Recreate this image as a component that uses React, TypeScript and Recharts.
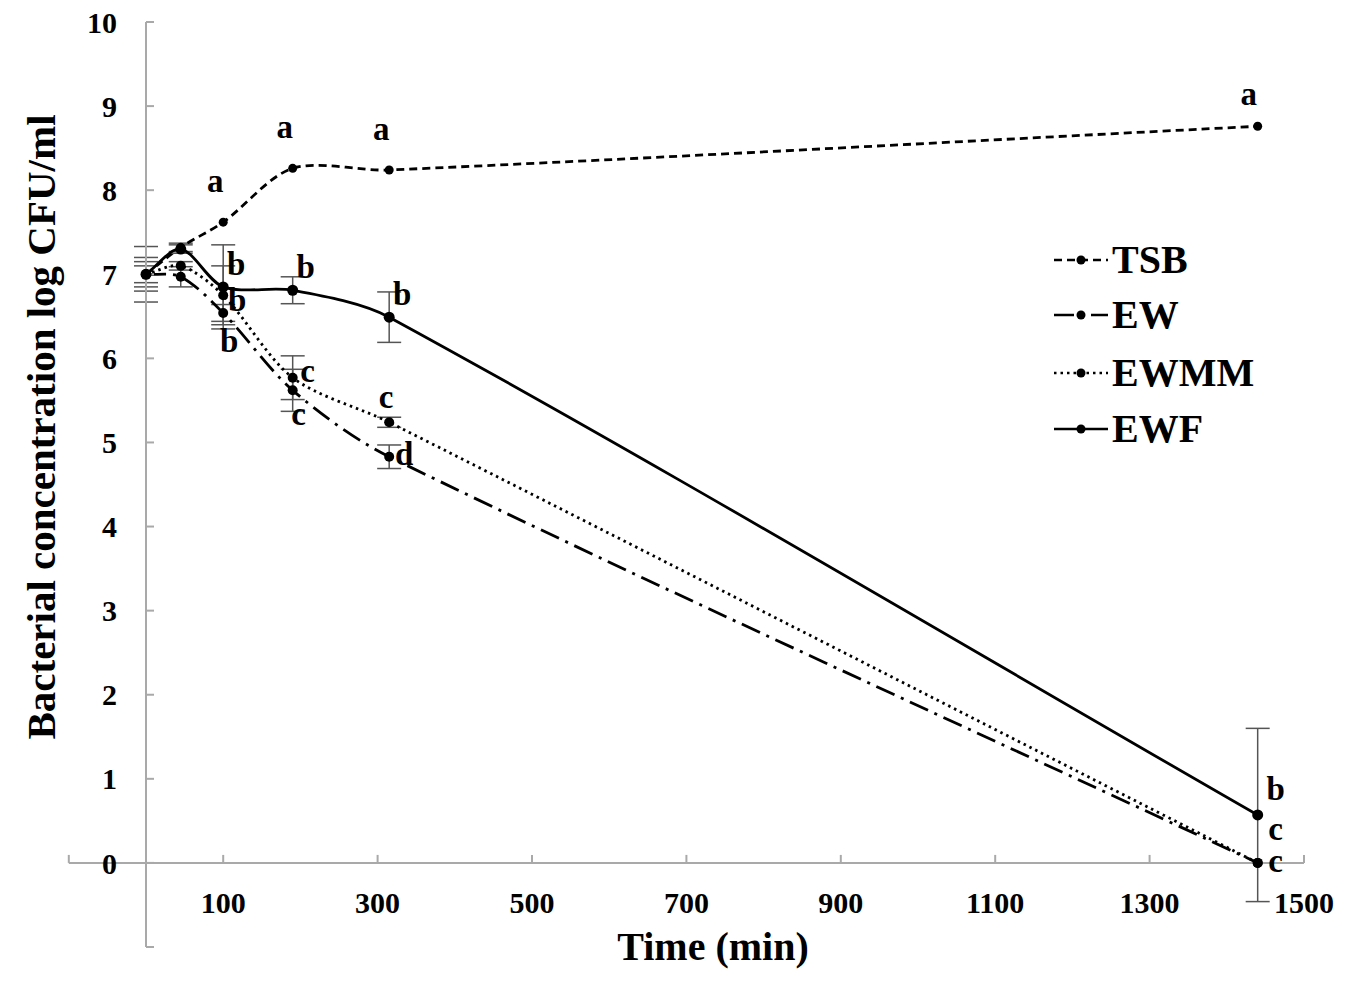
import React from "react";
import { ComposedChart, Line, XAxis, YAxis, ErrorBar, LabelList, ReferenceLine, Legend } from "recharts";

// sampling times (min)
const times = [0, 45, 100, 190, 315, 1440];

const tsb = [7.0, 7.32, 7.62, 8.26, 8.24, 8.76];
const tsbErr = [0.15, 0.05, 0, 0, 0, 0];
const tsbLetters = ["", "", "a", "a", "a", "a"];

const ew = [7.0, 6.97, 6.54, 5.62, 4.83, 0];
const ewErr = [0.2, 0.12, 0.1, 0.25, 0.14, 0];
const ewLetters = ["", "", "b", "c", "d", "c"];

const ewmm = [7.0, 7.1, 6.75, 5.77, 5.24, 0];
const ewmmErr = [0.1, 0.05, 0.35, 0.26, 0.06, 0];
const ewmmLetters = ["", "", "b", "c", "c", "c"];

const ewf = [7.0, 7.3, 6.85, 6.81, 6.49, 0.57];
const ewfErr = [0.33, 0.05, 0.5, 0.16, 0.3, 1.03];
const ewfLetters = ["", "", "b", "b", "b", "b"];

const xTicks = [100, 300, 500, 700, 900, 1100, 1300, 1500];
const yTicks = [-1, 0, 1, 2, 3, 4, 5, 6, 7, 8, 9, 10];

const FONT = '"Liberation Serif", "Times New Roman", serif';
const AXIS = "#a9a9a9";

// where each significance letter sits relative to its point
const OFFSETS: Record<string, [number, number]> = {
  above: [-8, -38],
  aboveLow: [-9, -29],
  upRight: [13, -24],
  right: [15, -4],
  rightLow: [14, 4],
  below: [6, 27],
  over: [-3, -22],
  endUp: [18, -27],
  endMid: [18, -31],
  endLow: [18, 1],
};

const series = [
  { key: "TSB", values: tsb, err: tsbErr, letters: tsbLetters, dash: "8 5", r: 4.5,
    place: ["", "", "above", "above", "above", "aboveLow"] },
  { key: "EW", values: ew, err: ewErr, letters: ewLetters, dash: "20 7 3 7", r: 5,
    place: ["", "", "below", "below", "right", "endLow"] },
  { key: "EWMM", values: ewmm, err: ewmmErr, letters: ewmmLetters, dash: "2.5 4", r: 5,
    place: ["", "", "rightLow", "right", "over", "endMid"] },
  { key: "EWF", values: ewf, err: ewfErr, letters: ewfLetters, dash: undefined, r: 5.5,
    place: ["", "", "upRight", "upRight", "upRight", "endUp"] },
];

const data = times.map((t, i) => {
  const row: Record<string, number | string> = { t };
  series.forEach(s => {
    row[s.key] = s.values[i];
    row[`${s.key}_err`] = s.err[i];
    row[`${s.key}_lbl`] = s.letters[i];
  });
  return row;
});

// Excel-like smoothed line: chord-length Catmull-Rom turned into cubic Beziers
const smoothCurve = (context: any) => {
  let pts: number[][] = [];
  return {
    areaStart() {},
    areaEnd() {},
    lineStart() { pts = []; },
    point(x: number, y: number) { pts.push([+x, +y]); },
    lineEnd() {
      const n = pts.length;
      if (!n) return;
      const dist = (a: number[], b: number[]) => Math.hypot(b[0] - a[0], b[1] - a[1]) || 1;
      const tan = (i: number) => {
        const prev = pts[Math.max(i - 1, 0)];
        const next = pts[Math.min(i + 1, n - 1)];
        const d = dist(prev, pts[i]) * (i > 0 ? 1 : 0) + dist(pts[i], next) * (i < n - 1 ? 1 : 0);
        return [(next[0] - prev[0]) / d, (next[1] - prev[1]) / d];
      };
      context.moveTo(pts[0][0], pts[0][1]);
      for (let i = 0; i < n - 1; i++) {
        const p1 = pts[i], p2 = pts[i + 1];
        const d = dist(p1, p2) * 0.3;
        const t1 = tan(i), t2 = tan(i + 1);
        context.bezierCurveTo(p1[0] + t1[0] * d, p1[1] + t1[1] * d, p2[0] - t2[0] * d, p2[1] - t2[1] * d, p2[0], p2[1]);
      }
    },
  };
};

const letterLabel = (letters: string[], place: string[]) => (props: any) => {
  const x = props.viewBox?.x ?? props.x;
  const y = props.viewBox?.y ?? props.y;
  const l = letters[props.index];
  if (!l || x == null || y == null) return null;
  const [dx, dy] = OFFSETS[place[props.index]];
  const tall = l === "b" || l === "d";
  return (
    <text x={x + dx} y={y + dy} dy={tall ? 12 : 8} textAnchor="middle"
      fontFamily={FONT} fontWeight="bold" fontSize={33} fill="#000">{l}</text>
  );
};

const LegendBox = () => {
  const rows = [30, 85, 143, 199];
  return (
    <svg width={260} height={230}>
      {series.map((s, i) => (
        <g key={s.key}>
          <line x1={14} x2={68} y1={rows[i]} y2={rows[i]} stroke="#000" strokeWidth={2.5}
            strokeDasharray={s.dash} />
          <circle cx={41} cy={rows[i]} r={4.5} fill="#000" />
          <text x={72} y={rows[i] + 13} fontFamily={FONT} fontWeight="bold" fontSize={40} fill="#000">{s.key}</text>
        </g>
      ))}
    </svg>
  );
};

export default function App() {
  const tickStyle = { fill: "#000", fontSize: 30, fontWeight: "bold", fontFamily: FONT };
  return (
    <div style={{ position: "absolute", left: 0, top: 0, width: 1350, height: 984, background: "#fff" }}>
      <ComposedChart width={1350} height={984} data={data} margin={{ top: 22, right: 46, left: 66, bottom: 7 }}>
        <XAxis dataKey="t" type="number" domain={[0, 1500]} ticks={xTicks} interval={0} height={30}
          axisLine={false} tickLine={false} tickSize={0} tickMargin={-55} tick={tickStyle}
          label={{ content: () => (
            <text x={713} y={960} textAnchor="middle" fontFamily={FONT} fontWeight="bold" fontSize={40} fill="#000">Time (min)</text>
          ) }} />
        <YAxis type="number" domain={[-1, 10]} ticks={yTicks} interval={0} width={80}
          stroke={AXIS} axisLine={{ stroke: AXIS, strokeWidth: 2 }} tickLine={{ stroke: AXIS, strokeWidth: 2 }}
          tickSize={-8} tickMargin={37} tick={tickStyle} tickFormatter={(v: number) => (v < 0 ? "" : String(v))}
          label={{ content: () => (
            <text x={55} y={427} transform="rotate(-90, 55, 427)" textAnchor="middle" fontFamily={FONT}
              fontWeight="bold" fontSize={41} fill="#000">Bacterial concentration log CFU/ml</text>
          ) }} />
        {/* the time axis crosses at 0 and starts a little left of the y axis */}
        <ReferenceLine segment={[{ x: -100, y: 0 }, { x: 1500, y: 0 }]} ifOverflow="visible" stroke={AXIS} strokeWidth={2} />
        {[-100, ...xTicks].map(t => (
          <ReferenceLine key={t} segment={[{ x: t, y: 0 }, { x: t, y: 0.095 }]} ifOverflow="visible"
            stroke={AXIS} strokeWidth={2} />
        ))}
        {series.map(s => (
          <Line key={s.key} dataKey={s.key} type={smoothCurve as any} stroke="#000" strokeWidth={2.8}
            strokeDasharray={s.dash} isAnimationActive={false}
            dot={{ r: s.r, fill: "#000", stroke: "none" }} activeDot={false}>
            <ErrorBar dataKey={`${s.key}_err`} width={12} stroke="#555" strokeWidth={1.5} direction="y"
              isAnimationActive={false} />
            <LabelList dataKey={`${s.key}_lbl`} content={letterLabel(s.letters, s.place)} />
          </Line>
        ))}
        <Legend layout="vertical" align="center" verticalAlign="middle" content={() => <LegendBox />}
          wrapperStyle={{ left: 1040, top: 230, width: 260, height: 230 }} />
      </ComposedChart>
    </div>
  );
}
